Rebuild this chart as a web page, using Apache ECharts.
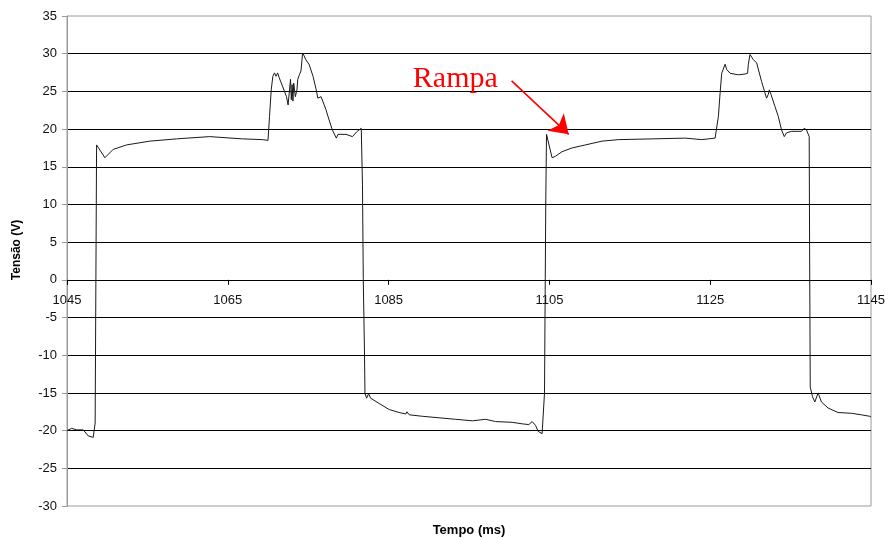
<!DOCTYPE html>
<html>
<head>
<meta charset="utf-8">
<script src="https://cdn.jsdelivr.net/npm/echarts@6/dist/echarts.min.js"></script>
<style>
  html, body { margin: 0; padding: 0; background: #fff; }
  #chart { width: 888px; height: 538px; }
</style>
</head>
<body>
<div id="chart"></div>
<script>
/* --------------------------- data --------------------------- */
// time in ms, one line per stretch of the waveform
const tempoMs = [
  1045.0, 1045.58, 1046.2, 1047.02, 1047.64, 1047.85, 1048.26, 1048.39, 1048.5, 1048.68,
  1049.71, 1050.74, 1052.41, 1055.3, 1058.61, 1062.74, 1066.84, 1069.32, 1070.0,
  1070.19, 1070.4, 1070.6, 1070.8,
  1071.0, 1071.2, 1071.4, 1071.6, 1071.8, 1072.3, 1072.5, 1072.7, 1072.8, 1072.9,
  1073.0, 1073.1, 1073.2, 1073.4, 1073.6, 1073.7, 1073.9, 1074.1, 1074.3, 1074.5,
  1074.7, 1075.1, 1075.6, 1076.0, 1076.2, 1076.4, 1076.6, 1076.8, 1077.2, 1077.6,
  1078.0, 1078.5, 1078.7, 1078.9, 1079.7, 1080.5, 1080.7, 1081.1, 1081.6, 1081.7,
  1081.75, 1081.85, 1082.0, 1082.06,
  1082.26, 1082.51, 1082.76, 1083.83, 1085.07, 1086.31, 1087.15, 1087.27, 1087.56,
  1089.21, 1091.28, 1093.35, 1095.41, 1097.07, 1098.31, 1100.37, 1101.61, 1102.44,
  1102.85, 1103.27, 1103.6, 1104.09, 1104.22,
  1104.39, 1104.55, 1104.64,
  1105.33, 1105.76, 1106.57, 1107.82, 1109.48, 1111.54, 1113.61, 1117.74, 1121.89,
  1123.95, 1125.61, 1125.81,
  1126.02, 1126.23, 1126.43, 1126.85,
  1127.05, 1127.47, 1128.5, 1129.33, 1129.65, 1129.74, 1129.95, 1130.36, 1130.77,
  1130.98, 1131.39, 1131.81, 1132.01, 1132.22, 1132.35, 1132.56, 1133.05, 1133.46,
  1133.87, 1134.21, 1134.49, 1135.11, 1135.94, 1136.35, 1136.69, 1136.97, 1137.31,
  1137.36, 1137.44, 1137.72,
  1138.01, 1138.42, 1138.83, 1139.66, 1140.9, 1142.55, 1143.79, 1144.83, 1145.0
];
// voltage in V, same order as tempoMs
const tensaoV = [
  -20.0, -19.7, -19.9, -19.9, -20.7, -20.9, -20.9, -21.0, -19.0, 17.9,
  16.2, 17.3, 17.9, 18.4, 18.7, 19.0, 18.7, 18.6, 18.5,
  21.7, 25.2, 27.0, 27.45,
  27.0, 27.45, 26.8, 27.0, 25.7, 24.3, 23.2, 23.2, 26.6, 23.9,
  25.9, 23.7, 26.1, 24.3, 25.2, 26.6, 27.2, 27.7, 30.1, 29.7,
  29.2, 28.6, 27.0, 25.2, 24.1, 23.9, 24.3, 24.1, 22.6, 21.2,
  19.9, 18.8, 19.3, 19.3, 19.3, 19.0, 18.8, 19.7, 20.1, 20.1,
  12.6, 0.0, -9.7, -15.05,
  -15.7, -15.1, -15.7, -16.4, -17.2, -17.6, -17.8, -17.5, -17.9,
  -18.1, -18.3, -18.5, -18.7, -18.5, -18.8, -18.9, -19.1, -19.2,
  -18.8, -19.3, -20.1, -20.4, -20.4,
  -15.0, 10.6, 19.3,
  16.2, 16.4, 17.0, 17.5, 17.9, 18.4, 18.6, 18.7, 18.8,
  18.6, 18.8, 18.7,
  21.7, 24.8, 27.4, 28.6,
  27.9, 27.4, 27.2, 27.3, 27.4, 28.6, 29.9, 29.2, 28.8,
  28.6, 26.3, 24.8, 24.1, 24.6, 25.2, 24.6, 23.0, 21.7,
  19.9, 19.0, 19.5, 19.7, 19.7, 19.7, 20.1, 19.9, 19.0,
  4.4, -14.2, -15.5,
  -16.2, -15.0, -16.2, -17.0, -17.6, -17.7, -17.9, -18.1, -18.2
];

// axis ranges
const xRange = [1045, 1145];
const xStep = 20;
const yRange = [-30, 35];
const yStep = 5;

// "Rampa" annotation (data coordinates)
const rampaText = 'Rampa';
const rampaTextAt = [1093.3, 26.6];
const rampaArrow = [[1100.3, 26.4], [1107.4, 19.3]];

/* ------------------------------------------------------------------------------ */

const chart = echarts.init(document.getElementById('chart'));
const serie = tempoMs.map((t, i) => [t, tensaoV[i]]);
const font = 'Liberation Sans, Arial, sans-serif';

const gridBox = { left: 67, right: 15, top: 16, bottom: 32 };
// the time axis sits on V = 0, so lift it from the bottom of the grid
const plotH = 538 - gridBox.top - gridBox.bottom;
const zeroLift = plotH * (0 - yRange[0]) / (yRange[1] - yRange[0]);

chart.setOption({
  animation: false,
  backgroundColor: '#fff',
  grid: Object.assign({ show: true, borderColor: '#9a9a9a', borderWidth: 1 }, gridBox),
  xAxis: {
    type: 'value',
    position: 'bottom',
    offset: -zeroLift,
    min: xRange[0], max: xRange[1], interval: xStep,
    axisLine: { onZero: false, lineStyle: { color: '#000', width: 1 } },
    axisTick: { show: true, inside: false, length: 5, lineStyle: { color: '#000' } },
    axisLabel: { color: '#111', fontSize: 13, fontFamily: font, margin: 14,
                 showMinLabel: true, showMaxLabel: true,
                 formatter: v => String(v) },
    splitLine: { show: false }
  },
  yAxis: {
    type: 'value',
    min: yRange[0], max: yRange[1], interval: yStep,
    name: 'Tensão (V)',
    nameLocation: 'middle',
    nameGap: 44,
    nameRotate: 90,
    nameTextStyle: { fontWeight: 'bold', fontSize: 12, fontFamily: font, color: '#000',
                     padding: [0, 0, 0, 22] },
    axisLine: { show: true, lineStyle: { color: '#9a9a9a' } },
    axisTick: { show: true, length: 5, lineStyle: { color: '#9a9a9a' } },
    axisLabel: { color: '#111', fontSize: 13, fontFamily: font, margin: 10 },
    splitLine: { show: true, showMinLine: false, showMaxLine: false,
                 lineStyle: { color: '#000', width: 1 } }
  },
  graphic: [{
    type: 'text',
    x: 469, y: 530,
    style: { text: 'Tempo (ms)', fill: '#000', font: 'bold 13px ' + font,
             align: 'center', verticalAlign: 'middle' }
  }],
  series: [{
    type: 'line',
    data: serie,
    showSymbol: false,
    symbol: 'none',
    lineStyle: { color: '#1a1a1a', width: 1 },
    z: 3,
    markLine: {
      silent: true,
      symbol: ['none', 'arrow'],
      symbolSize: 18,
      lineStyle: { color: '#ff0000', width: 1.6, type: 'solid' },
      label: { show: false },
      data: [[{ coord: rampaArrow[0] }, { coord: rampaArrow[1] }]]
    },
    markPoint: {
      silent: true,
      symbol: 'rect',
      symbolSize: 1,
      itemStyle: { color: 'rgba(0,0,0,0)' },
      label: { show: true, position: 'inside', formatter: rampaText, color: '#ff0000',
               fontSize: 30, fontFamily: 'Liberation Serif, Times New Roman, serif' },
      data: [{ coord: rampaTextAt }]
    }
  }]
});
</script>
</body>
</html>
